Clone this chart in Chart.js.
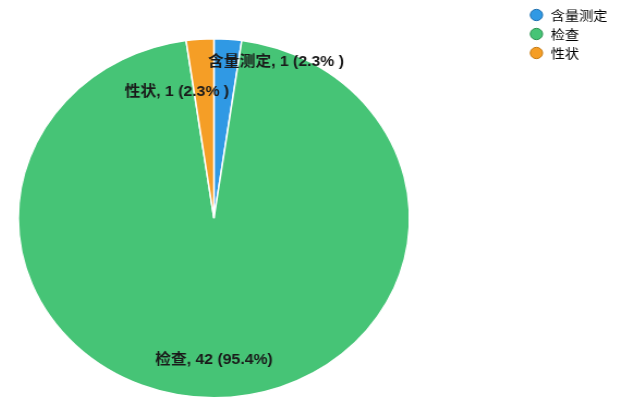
<!DOCTYPE html>
<html>
<head>
<meta charset="utf-8">
<script src="https://cdn.jsdelivr.net/npm/chart.js@4/dist/chart.umd.min.js"></script>
<style>
  html, body { margin: 0; padding: 0; background: #fff; overflow: hidden; }
  body { position: relative; width: 621px; height: 414px; }
  /* Vorlage ist horizontal gestreckt (Faktor ~1.09), daher CSS-Breite > Canvas-Breite.
     Canvas etwas breiter/höher und nach links versetzt, damit Kreis und Legende passen. */
  #chart { display: block; position: absolute; left: -94.9px; top: 0; width: 715.8px; height: 434px; }
</style>
</head>
<body>
<canvas id="chart" width="657" height="434" style="width:715.8px;height:434px"></canvas>
<script>
// Daten
const categories = ['含量测定', '检查', '性状'];
const counts = [1, 42, 1];
const percentLabels = ['2.3% ', '95.4%', '2.3% '];

const sliceColors = ['#3099e4', '#46c476', '#f59e26'];
const legendBorders = ['#1f6fae', '#2e9152', '#c47a14'];

// Beschriftungen direkt auf den Segmenten
const sliceLabelPlugin = {
    id: 'sliceLabels',
    afterDatasetsDraw(chart, args, opts) {
        const ctx = chart.ctx;
        const meta = chart.getDatasetMeta(0);
        ctx.save();
        ctx.font = opts.font;
        ctx.fillStyle = opts.color;
        ctx.textBaseline = 'middle';
        meta.data.forEach((arc, i) => {
            const p = arc.getProps(['x', 'y', 'startAngle', 'endAngle', 'outerRadius'], true);
            const place = opts.placement[i];
            const mid = (p.startAngle + p.endAngle) / 2;
            const r = p.outerRadius * place.r;
            const x = p.x + Math.cos(mid) * r + place.dx;
            const y = p.y + Math.sin(mid) * r;
            ctx.textAlign = place.align;
            ctx.fillText(`${categories[i]}, ${counts[i]} (${percentLabels[i]})`, x, y);
        });
        ctx.restore();
    }
};

new Chart(document.getElementById('chart'), {
    type: 'pie',
    data: {
        labels: categories,
        datasets: [{
            data: counts,
            backgroundColor: sliceColors,
            borderColor: '#ffffff',
            borderWidth: 1.5,
            radius: 179.5
        }]
    },
    options: {
        responsive: false,
        animation: false,
        devicePixelRatio: 1,
        layout: {
            padding: { left: 0, right: 2.6, top: 2.5, bottom: 0 }
        },
        plugins: {
            tooltip: { enabled: false },
            legend: {
                position: 'right',
                align: 'start',
                labels: {
                    usePointStyle: true,
                    pointStyle: 'circle',
                    boxWidth: 13,
                    boxHeight: 8,
                    padding: 6,
                    color: '#333333',
                    font: { family: '"Noto Sans CJK SC", sans-serif', size: 13 },
                    generateLabels(chart) {
                        return categories.map((c, i) => ({
                            text: c,
                            fillStyle: sliceColors[i],
                            strokeStyle: legendBorders[i],
                            lineWidth: 1,
                            pointStyle: 'circle',
                            hidden: false,
                            index: i,
                            datasetIndex: 0
                        }));
                    }
                }
            },
            sliceLabels: {
                font: 'bold 14.5px "Liberation Sans", "Noto Sans CJK SC", sans-serif',
                color: '#1a1a1a',
                placement: [
                    { r: 0.871, dx: -16.7, align: 'left' },
                    { r: 0.79, dx: 0, align: 'center' },
                    { r: 0.706, dx: 23, align: 'right' }
                ]
            }
        }
    },
    plugins: [sliceLabelPlugin]
});
</script>
</body>
</html>
